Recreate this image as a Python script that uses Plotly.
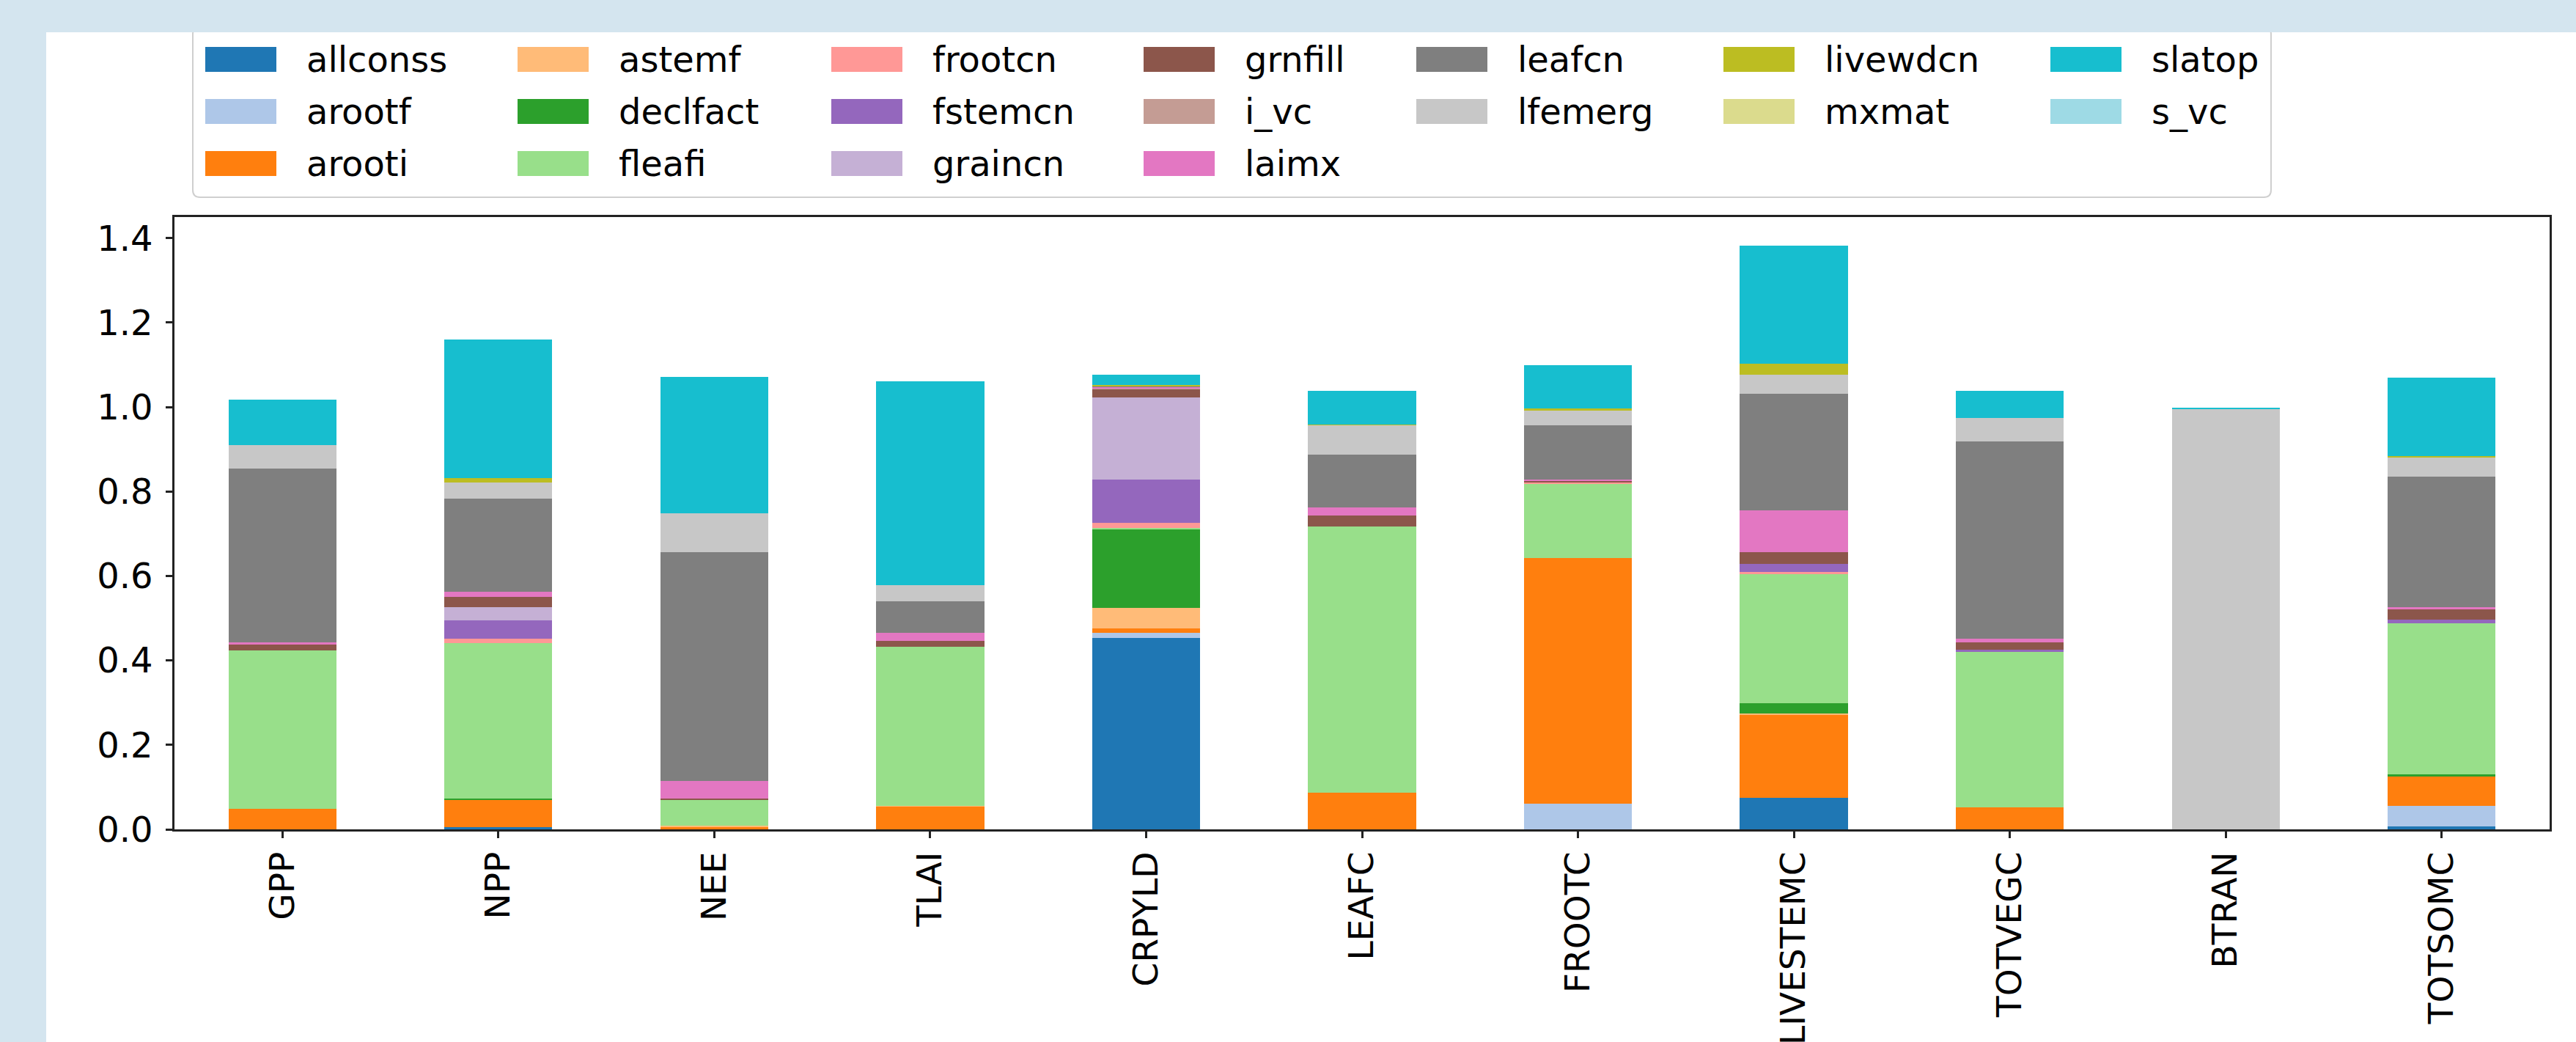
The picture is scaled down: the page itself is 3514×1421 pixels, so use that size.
import plotly.graph_objects as go

# ---------------- data ----------------
categories = ["GPP", "NPP", "NEE", "TLAI", "CRPYLD", "LEAFC", "FROOTC",
              "LIVESTEMC", "TOTVEGC", "BTRAN", "TOTSOMC"]

series_names = ["allconss", "arootf", "arooti", "astemf", "declfact", "fleafi",
                "frootcn", "fstemcn", "graincn", "grnfill", "i_vc", "laimx",
                "leafcn", "lfemerg", "livewdcn", "mxmat", "slatop", "s_vc"]

allconss = [0, 0.006, 0, 0, 0.454, 0, 0, 0.074, 0, 0, 0.007]
arootf   = [0, 0, 0, 0, 0.012, 0, 0.060, 0, 0, 0, 0.048]
arooti   = [0.048, 0.063, 0.006, 0.054, 0.009, 0.087, 0.582, 0.197, 0.052, 0, 0.070]
astemf   = [0, 0, 0.003, 0.002, 0.049, 0, 0, 0.003, 0, 0, 0]
declfact = [0, 0.004, 0, 0, 0.186, 0, 0, 0.025, 0, 0, 0.005]
fleafi   = [0.375, 0.368, 0.062, 0.376, 0.004, 0.630, 0.177, 0.306, 0.369, 0, 0.358]
frootcn  = [0, 0.010, 0, 0, 0.012, 0, 0.003, 0.004, 0, 0, 0]
fstemcn  = [0, 0.044, 0, 0, 0.103, 0, 0, 0.019, 0.005, 0, 0.008]
graincn  = [0, 0.032, 0, 0, 0.194, 0, 0, 0, 0, 0, 0]
grnfill  = [0.015, 0.024, 0.002, 0.015, 0.019, 0.027, 0.003, 0.029, 0.017, 0, 0.025]
i_vc     = [0, 0, 0, 0, 0.002, 0, 0, 0, 0, 0, 0]
laimx    = [0.004, 0.011, 0.042, 0.018, 0.004, 0.018, 0.004, 0.098, 0.008, 0, 0.006]
leafcn   = [0.413, 0.221, 0.541, 0.075, 0.002, 0.126, 0.127, 0.277, 0.468, 0, 0.308]
lfemerg  = [0.055, 0.039, 0.093, 0.038, 0, 0.069, 0.037, 0.044, 0.056, 0.996, 0.046]
livewdcn = [0, 0.010, 0, 0, 0.003, 0.002, 0.003, 0.026, 0, 0, 0.003]
mxmat    = [0, 0, 0, 0, 0, 0, 0, 0, 0, 0, 0]
slatop   = [0.107, 0.328, 0.323, 0.483, 0.023, 0.080, 0.104, 0.281, 0.063, 0.003, 0.186]
s_vc     = [0, 0, 0, 0, 0, 0, 0, 0, 0, 0, 0]

series_values = [allconss, arootf, arooti, astemf, declfact, fleafi, frootcn,
                 fstemcn, graincn, grnfill, i_vc, laimx, leafcn, lfemerg,
                 livewdcn, mxmat, slatop, s_vc]

colors = ["#1f77b4", "#aec7e8", "#ff7f0e", "#ffbb78", "#2ca02c", "#98df8a",
          "#ff9896", "#9467bd", "#c5b0d5", "#8c564b", "#c49c94", "#e377c2",
          "#7f7f7f", "#c7c7c7", "#bcbd22", "#dbdb8d", "#17becf", "#9edae5"]

y_ticks = [0.0, 0.2, 0.4, 0.6, 0.8, 1.0, 1.2, 1.4]

# ---------------- layout geometry (pixels) ----------------
W, H = 3514, 1421
L, R, T, B = 238, 36, 296, 290
PW = W - L - R
PH = H - T - B
FONT = "DejaVu Sans"
BAND = "#d4e5ef"


def fx(px):
    return (px - L) / PW


def fy(py):
    return (H - B - py) / PH


fig = go.Figure()
for name, vals, col in zip(series_names, series_values, colors):
    fig.add_trace(go.Bar(
        x=categories, y=vals, name=name, width=0.5,
        marker=dict(color=col, line=dict(width=0)),
        showlegend=False,
    ))

shapes = []
annotations = []

# legend frame (rounded)
lx0, lx1, ly0, ly1, rr = 263, 3098, 36, 269, 10
path = (f"M {fx(lx0 + rr)},{fy(ly0)} L {fx(lx1 - rr)},{fy(ly0)} "
        f"Q {fx(lx1)},{fy(ly0)} {fx(lx1)},{fy(ly0 + rr)} "
        f"L {fx(lx1)},{fy(ly1 - rr)} Q {fx(lx1)},{fy(ly1)} {fx(lx1 - rr)},{fy(ly1)} "
        f"L {fx(lx0 + rr)},{fy(ly1)} Q {fx(lx0)},{fy(ly1)} {fx(lx0)},{fy(ly1 - rr)} "
        f"L {fx(lx0)},{fy(ly0 + rr)} Q {fx(lx0)},{fy(ly0)} {fx(lx0 + rr)},{fy(ly0)} Z")
shapes.append(dict(type="path", xref="paper", yref="paper", path=path,
                   fillcolor="white", line=dict(color="#cfcfcf", width=2),
                   layer="above"))

# legend entries, column-major like matplotlib (ncol=7)
col_x = [280, 706, 1134, 1560, 1932, 2351, 2797]
row_y = [81, 152, 223]
col_sizes = [3, 3, 3, 3, 2, 2, 2]
idx = 0
for c, n in enumerate(col_sizes):
    for r in range(n):
        name, col = series_names[idx], colors[idx]
        x0 = col_x[c]
        yc = row_y[r]
        shapes.append(dict(type="rect", xref="paper", yref="paper",
                           x0=fx(x0), x1=fx(x0 + 97), y0=fy(yc + 17), y1=fy(yc - 17),
                           fillcolor=col, line=dict(width=0), layer="above"))
        annotations.append(dict(xref="paper", yref="paper", x=fx(x0 + 136), y=fy(yc),
                                xanchor="left", yanchor="middle", showarrow=False,
                                text=name, font=dict(family=FONT, size=48, color="black")))
        idx += 1

# page frame bands (light blue)
shapes.append(dict(type="rect", xref="paper", yref="paper",
                   x0=fx(0), x1=fx(W), y0=fy(44), y1=fy(0),
                   fillcolor=BAND, line=dict(width=0), layer="above"))
shapes.append(dict(type="rect", xref="paper", yref="paper",
                   x0=fx(0), x1=fx(63), y0=fy(H), y1=fy(0),
                   fillcolor=BAND, line=dict(width=0), layer="above"))

fig.update_layout(
    template="none",
    width=W, height=H,
    margin=dict(l=L, r=R, t=T, b=B, pad=0),
    barmode="stack",
    paper_bgcolor="white",
    plot_bgcolor="white",
    showlegend=False,
    font=dict(family=FONT, size=48, color="black"),
    shapes=shapes,
    annotations=annotations,
    xaxis=dict(
        type="category", categoryorder="array", categoryarray=categories,
        range=[-0.5, len(categories) - 0.5],
        tickangle=-90, tickfont=dict(family=FONT, size=47, color="black"),
        ticks="outside", ticklen=9, tickwidth=2.5, tickcolor="#222",
        showline=True, linecolor="#222", linewidth=2.5, mirror=True,
        showgrid=False, zeroline=False, automargin=False,
        ticklabelstandoff=0,
    ),
    yaxis=dict(
        range=[0, 1.45], tickvals=y_ticks, tickformat=".1f",
        tickfont=dict(family=FONT, size=48, color="black"),
        ticks="outside", ticklen=9, tickwidth=2.5, tickcolor="#222",
        showline=True, linecolor="#222", linewidth=2.5, mirror=True,
        showgrid=False, zeroline=False, automargin=False,
        ticklabelstandoff=8,
    ),
)

fig.write_html(
    "out.html",
    config={"displayModeBar": False},
    post_script="document.body.style.margin='0';document.body.style.padding='0';"
                "document.body.style.overflow='hidden';"
                "document.documentElement.style.overflow='hidden';",
)
